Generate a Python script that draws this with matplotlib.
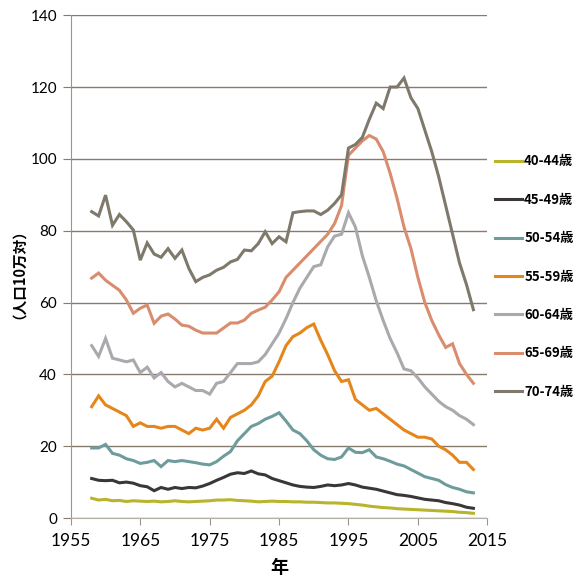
import matplotlib
matplotlib.use("Agg")
import matplotlib.pyplot as plt

plt.rcParams['font.family'] = ['Lato', 'Noto Sans CJK JP', 'DejaVu Sans']

# 年
years = list(range(1958, 2014))

# 年齢階級別の値（人口10万対）
age_40_44 = [5.5, 5.0, 5.2, 4.8, 4.9, 4.6, 4.8, 4.7, 4.6, 4.7,
             4.5, 4.6, 4.8, 4.6, 4.5, 4.6, 4.7, 4.8, 5.0, 5.0,
             5.1, 4.9, 4.8, 4.7, 4.5, 4.6, 4.7, 4.6, 4.6, 4.5,
             4.5, 4.4, 4.4, 4.3, 4.2, 4.2, 4.1, 4.0, 3.8, 3.6,
             3.3, 3.1, 2.9, 2.8, 2.6, 2.5, 2.4, 2.3, 2.2, 2.1,
             2.0, 1.9, 1.8, 1.6, 1.5, 1.3]
age_45_49 = [11.0, 10.5, 10.4, 10.5, 9.8, 10.0, 9.7, 9.0, 8.7, 7.6,
             8.5, 8.0, 8.5, 8.2, 8.5, 8.4, 8.9, 9.6, 10.5, 11.3,
             12.2, 12.6, 12.4, 13.1, 12.3, 12.0, 11.0, 10.4, 9.8, 9.2,
             8.8, 8.6, 8.5, 8.8, 9.2, 9.0, 9.2, 9.6, 9.2, 8.6,
             8.3, 8.0, 7.5, 7.0, 6.5, 6.3, 6.0, 5.6, 5.2, 5.0,
             4.8, 4.3, 4.0, 3.6, 3.0, 2.7]
age_50_54 = [19.5, 19.5, 20.5, 18.0, 17.5, 16.5, 16.0, 15.2, 15.5, 16.0,
             14.3, 16.0, 15.7, 16.0, 15.7, 15.4, 15.0, 14.8, 15.7, 17.2,
             18.5, 21.5, 23.5, 25.5, 26.3, 27.5, 28.3, 29.3, 27.0, 24.5,
             23.5, 21.5, 19.0, 17.5, 16.5, 16.3, 17.0, 19.5, 18.3, 18.2,
             19.0, 17.0, 16.5, 15.8, 15.0, 14.5, 13.5, 12.5, 11.5, 11.0,
             10.5, 9.3, 8.5, 8.0, 7.3, 7.0]
age_55_59 = [31.0, 34.0, 31.5, 30.5, 29.5, 28.5, 25.5, 26.5, 25.5, 25.5,
             25.0, 25.5, 25.5, 24.5, 23.5, 25.0, 24.5, 25.0, 27.5, 25.0,
             28.0, 29.0, 30.0, 31.5, 34.0, 38.0, 39.5, 43.5, 48.0, 50.5,
             51.5, 53.0, 54.0, 49.5, 45.5, 41.0, 38.0, 38.5, 33.0, 31.5,
             30.0, 30.5, 29.0, 27.5, 26.0, 24.5, 23.5, 22.5, 22.5, 22.0,
             20.0, 19.0, 17.5, 15.5, 15.5, 13.5]
age_60_64 = [48.0, 45.0, 50.0, 44.5, 44.0, 43.5, 44.0, 40.5, 42.0, 39.0,
             40.5, 38.0, 36.5, 37.5, 36.5, 35.5, 35.5, 34.5, 37.5, 38.0,
             40.5, 43.0, 43.0, 43.0, 43.5, 45.5, 48.5, 51.5, 55.5, 60.0,
             64.0, 67.0, 70.0, 70.5, 75.5, 78.5, 79.0, 85.0, 81.0, 73.0,
             67.0, 60.5, 55.0, 50.0, 46.0, 41.5, 41.0, 39.0, 36.5, 34.5,
             32.5, 31.0, 30.0, 28.5, 27.5, 26.0]
age_65_69 = [66.8, 68.2, 66.2, 64.8, 63.4, 60.7, 57.0, 58.4, 59.3, 54.2,
             56.2, 56.8, 55.4, 53.7, 53.4, 52.3, 51.5, 51.5, 51.5, 52.9,
             54.3, 54.3, 55.1, 57.0, 57.9, 58.7, 60.7, 63.0, 67.0, 69.0,
             71.0, 73.0, 75.0, 77.0, 79.0, 82.0, 87.0, 101.0, 103.0, 105.0,
             106.5, 105.5, 102.0, 96.0, 89.0, 81.0, 75.0, 67.0, 60.0, 55.0,
             51.0, 47.5, 48.5, 43.0, 40.0, 37.5]
age_70_74 = [85.3, 84.1, 89.9, 81.5, 84.5, 82.5, 80.2, 71.8, 76.6, 73.5,
             72.6, 75.0, 72.3, 74.6, 69.5, 65.8, 67.0, 67.7, 69.0, 69.8,
             71.3, 72.0, 74.6, 74.4, 76.4, 79.7, 76.4, 78.3, 76.9, 85.0,
             85.3, 85.5, 85.5, 84.5, 85.7, 87.6, 90.0, 103.0, 104.0, 106.0,
             111.0, 115.5, 114.0, 120.0, 120.0, 122.5, 117.0, 114.0, 108.0, 102.0,
             95.0, 87.0, 79.0, 71.0, 65.0, 58.0]

labels = ['40-44歳', '45-49歳', '50-54歳', '55-59歳', '60-64歳', '65-69歳', '70-74歳']
series = [age_40_44, age_45_49, age_50_54, age_55_59, age_60_64, age_65_69, age_70_74]
colors = ['#b8b42c', '#3b3738', '#6e9c9c', '#e5861c', '#a9a9ae', '#d98d6e', '#7e796b']

fig = plt.figure(figsize=(5.76, 5.84), dpi=100)
ax = fig.add_axes([0.123, 0.113, 0.723, 0.861])

for vals, lab, col in zip(series, labels, colors):
    ax.plot(years, vals, color=col, lw=2.2, label=lab, solid_joinstyle='miter')

ax.set_xlim(1955, 2015)
ax.set_ylim(0, 140)
ax.set_xticks(range(1955, 2016, 10))
ax.set_yticks(range(0, 141, 20))

# グリッド線
ax.grid(axis='y', color='#857a6c', lw=1.0)
ax.set_axisbelow(True)
for s in ['top', 'right']:
    ax.spines[s].set_visible(False)
ax.spines['left'].set_color('#9b958c')
ax.spines['bottom'].set_color('#b5b0a8')
ax.tick_params(axis='y', length=6, color='#857a6c', labelsize=11, pad=4)
ax.tick_params(axis='x', length=5, color='#9b958c', labelsize=12.5, pad=6)

ax.set_xlabel('年', fontsize=13, fontweight='bold', family=['Noto Sans CJK JP'], labelpad=6)
ax.set_ylabel('（人口10万対）', fontsize=10.5, fontweight='bold',
              family=['Noto Sans CJK JP'], labelpad=8)

leg = ax.legend(loc='center left', bbox_to_anchor=(1.0, 0.48), frameon=False,
                prop={'family': ['Noto Sans CJK JP'], 'weight': 'bold', 'size': 9.5},
                handlelength=2.0, handletextpad=0.2, labelspacing=1.85,
                borderaxespad=0.2)

fig.savefig('out.png', dpi=100)
